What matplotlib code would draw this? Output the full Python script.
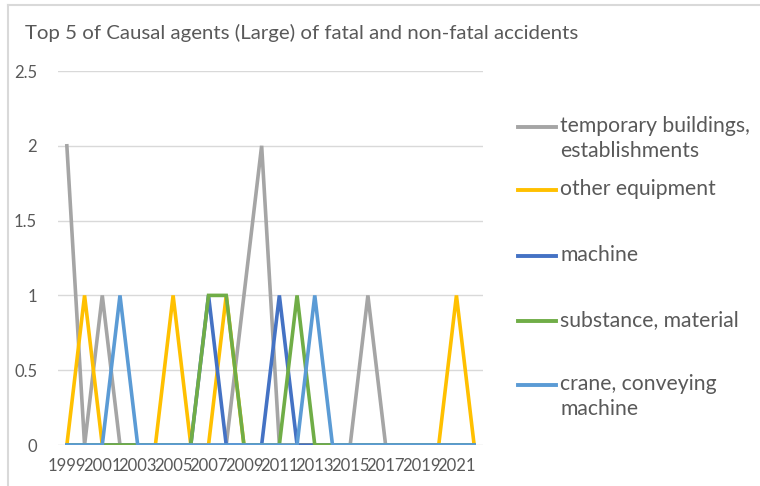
import matplotlib.pyplot as plt
from matplotlib.lines import Line2D

years = list(range(1999, 2023))
series_names = [
    "temporary buildings,\nestablishments",
    "other equipment",
    "machine",
    "substance, material",
    "crane, conveying\nmachine",
]
temporary_buildings = [2, 0, 1, 0, 0, 0, 0, 0, 0, 0, 1, 2, 0, 0, 0, 0, 0, 1, 0, 0, 0, 0, 0, 0]
other_equipment = [0, 1, 0, 0, 0, 0, 1, 0, 0, 1, 0, 0, 0, 0, 0, 0, 0, 0, 0, 0, 0, 0, 1, 0]
machine = [0, 0, 0, 0, 0, 0, 0, 0, 1, 0, 0, 0, 1, 0, 0, 0, 0, 0, 0, 0, 0, 0, 0, 0]
substance_material = [0, 0, 0, 0, 0, 0, 0, 0, 1, 1, 0, 0, 0, 1, 0, 0, 0, 0, 0, 0, 0, 0, 0, 0]
crane_conveying = [0, 0, 0, 1, 0, 0, 0, 0, 0, 0, 0, 0, 0, 0, 1, 0, 0, 0, 0, 0, 0, 0, 0, 0]
colors = ["#A5A5A5", "#FFC000", "#4472C4", "#70AD47", "#5B9BD5"]

plt.rcParams["font.family"] = ["Lato", "DejaVu Sans"]
text_col = "#595959"

W, H = 760, 486
fig = plt.figure(figsize=(W / 100, H / 100), dpi=100)
ax = fig.add_axes([58 / W, 1 - 445 / H, (483 - 58) / W, (445 - 71) / H])

values = [temporary_buildings, other_equipment, machine, substance_material, crane_conveying]
x = list(range(len(years)))
for vals, col in zip(values, colors):
    ax.plot(x, vals, color=col, lw=2.6, solid_joinstyle="miter", zorder=3)

ax.set_xlim(-0.5, len(years) - 0.5)
ax.set_ylim(0, 2.5)
ax.set_yticks([0, 0.5, 1, 1.5, 2, 2.5])
ax.set_yticklabels(["0", "0.5", "1", "1.5", "2", "2.5"])
ax.set_xticks(x[::2])
ax.set_xticklabels([str(y) for y in years[::2]])
ax.grid(axis="y", color="#D9D9D9", lw=1)
ax.set_axisbelow(True)
for s in ax.spines.values():
    s.set_visible(False)
ax.tick_params(length=0, colors=text_col, labelsize=12)
ax.tick_params(axis="y", pad=15)
ax.tick_params(axis="x", pad=9)

fig.text(25 / W, 1 - 33 / H, "Top 5 of Causal agents (Large) of fatal and non-fatal accidents",
         fontsize=14.7, color=text_col, va="center", ha="left")

# legend drawn by hand so entries sit like Excel's
legend_y = [127, 190, 256, 321, 385]
for name, col, ly in zip(series_names, colors, legend_y):
    fig.add_artist(Line2D([518 / W, 556 / W], [1 - ly / H, 1 - ly / H], color=col, lw=2.8,
                          transform=fig.transFigure))
    fig.text(560 / W, 1 - (ly - 11) / H, name, fontsize=15.2, color=text_col, va="top", ha="left",
             linespacing=1.3)

# chart border (only top/left visible in the crop)
fig.add_artist(Line2D([8 / W, 1], [1 - 5 / H, 1 - 5 / H], color="#D9D9D9", lw=1.5, transform=fig.transFigure))
fig.add_artist(Line2D([8 / W, 8 / W], [0, 1 - 5 / H], color="#D9D9D9", lw=1.5, transform=fig.transFigure))

fig.savefig("out.png", dpi=100)
